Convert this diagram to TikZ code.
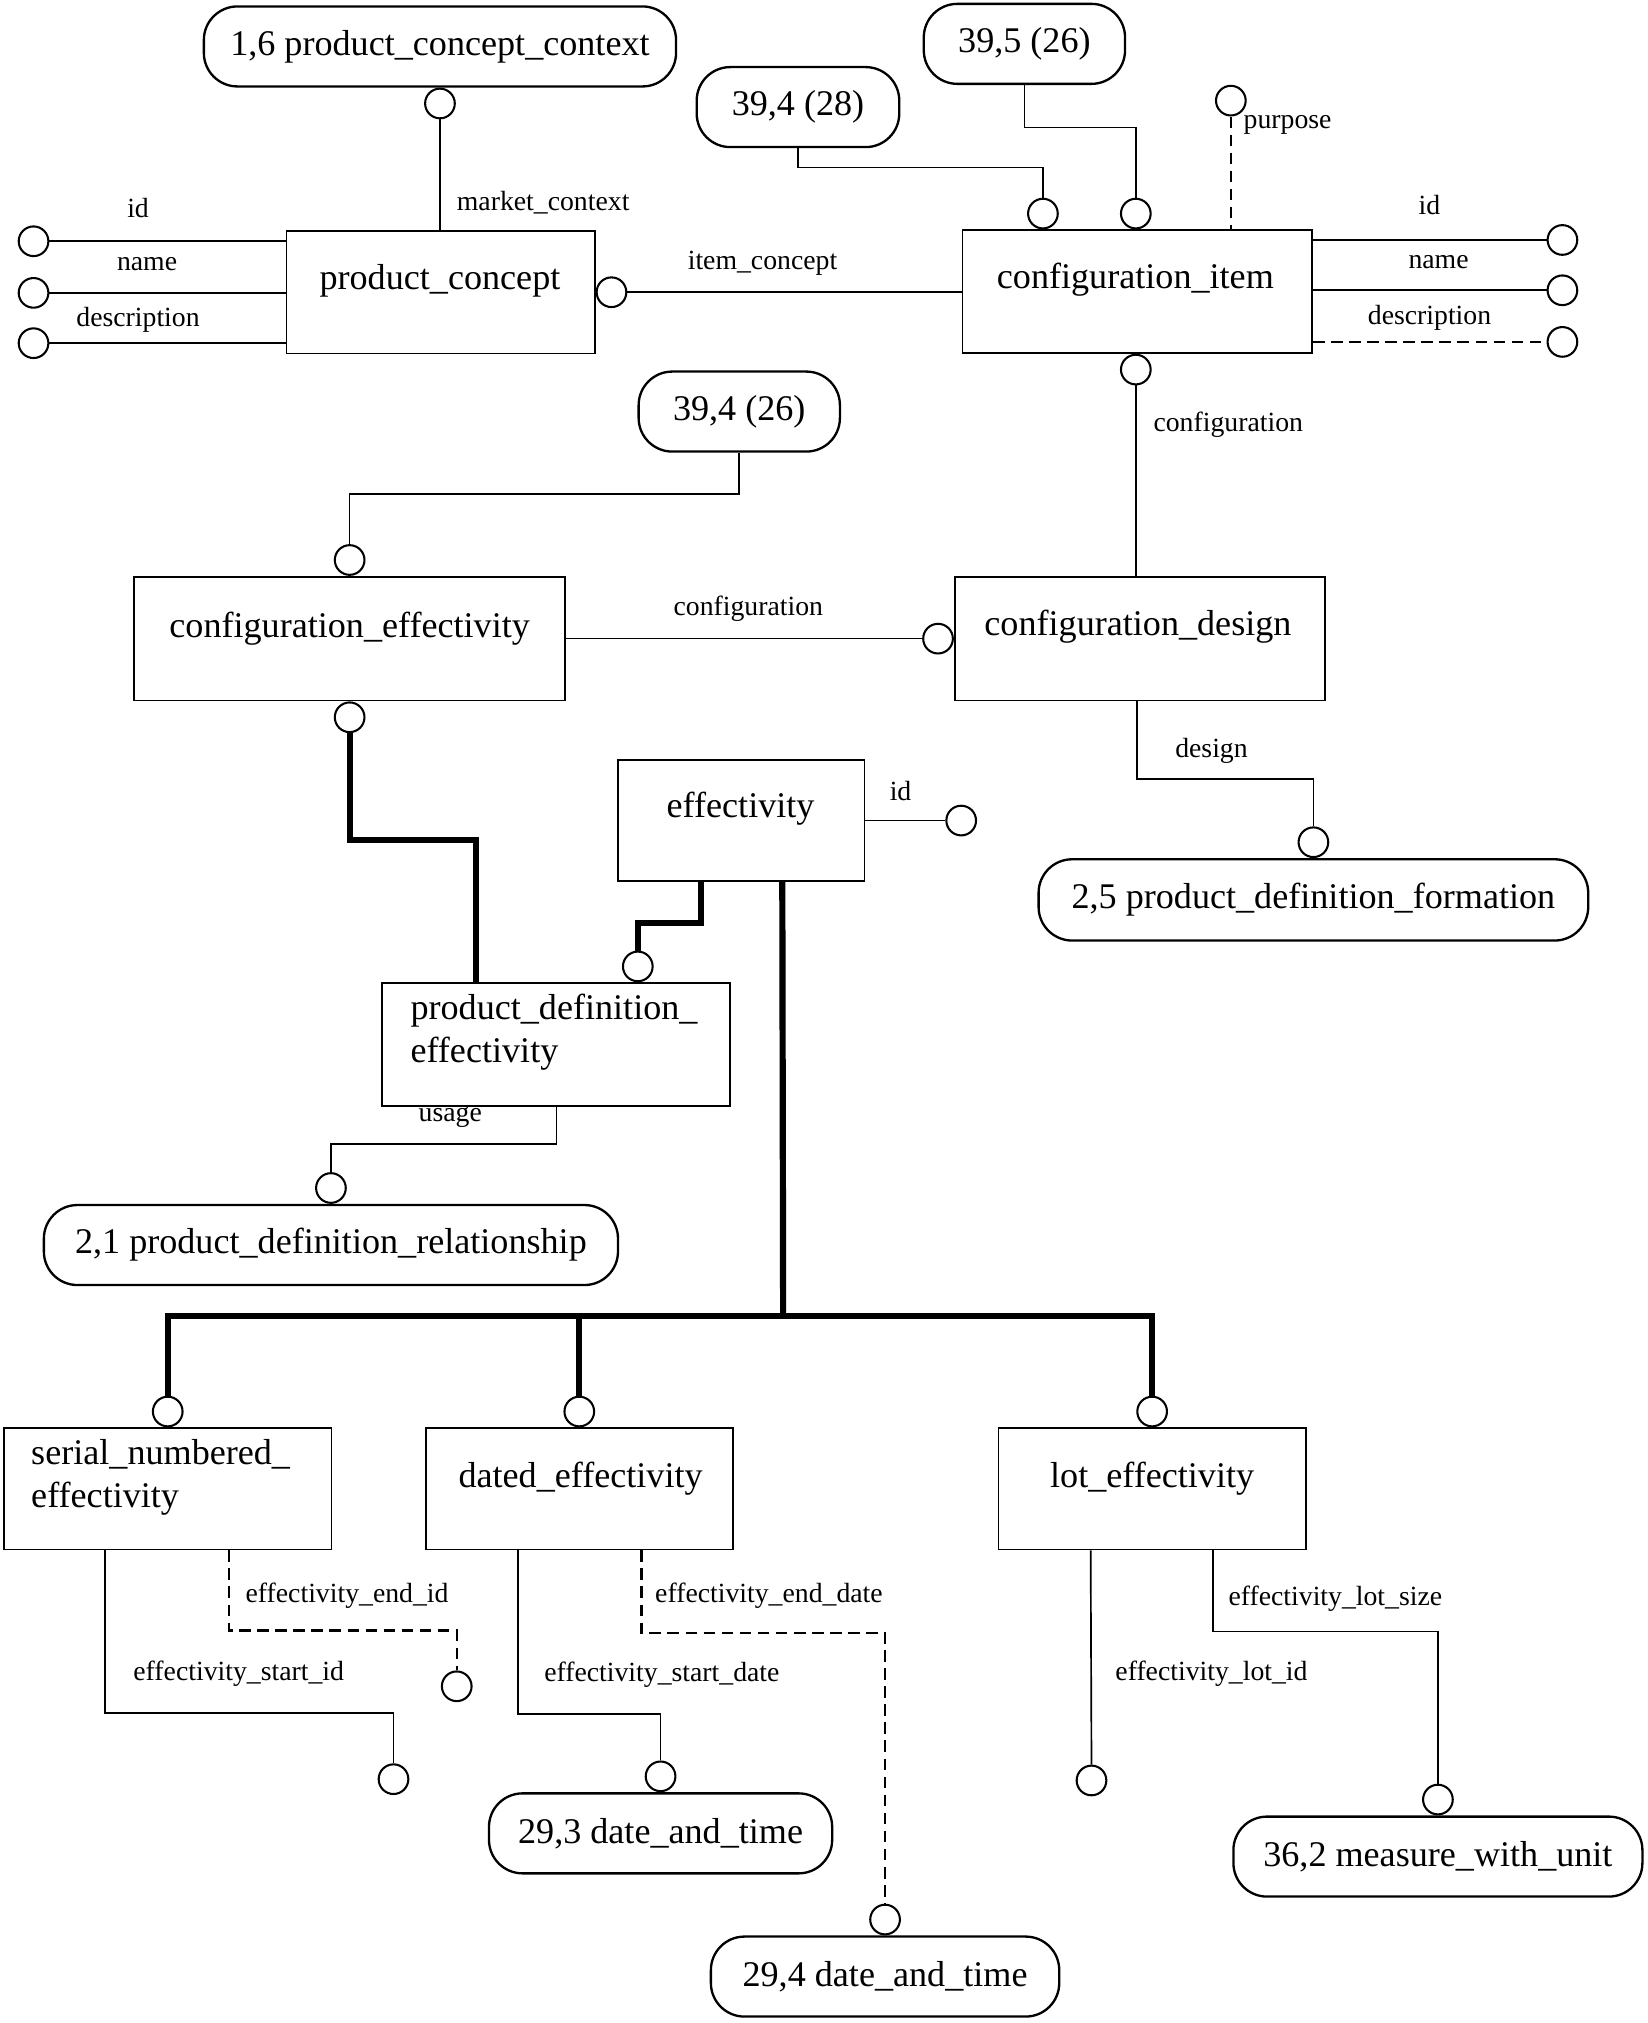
\documentclass[tikz,border=0pt]{standalone}
\usepackage{fontspec}
\setmainfont{Liberation Serif}
\usetikzlibrary{calc}
\newcommand\entfont{\fontsize{28}{33}\selectfont}
\newcommand\lblfont{\fontsize{21.5}{25}\selectfont}
\begin{document}
\begin{tikzpicture}[x=1pt,y=-1pt,
  ent/.style={draw,line width=1.3pt,inner sep=0pt},
  pill/.style={draw,line width=1.8pt,rounded corners=26pt,inner sep=0pt,font=\entfont},
  etext/.style={inner sep=0pt,font=\entfont},
  dot/.style={draw,circle,line width=1.6pt,minimum size=23pt,inner sep=0pt},
  lbl/.style={inner sep=0pt,font=\lblfont},
  conn/.style={line width=1.3pt},
  heavy/.style={line width=4.8pt},
  opt/.style={line width=1.9pt,dash pattern=on 9pt off 5pt}]
\useasboundingbox (0,0) rectangle (1277,1568);

% pills
\node[pill,minimum width=366pt,minimum height=62pt] (pcc) at (341,36) {1,6 product\_concept\_context};
\node[pill,minimum width=157pt,minimum height=62pt] (p3928) at (618.5,83) {39,4 (28)};
\node[pill,minimum width=156pt,minimum height=62pt] (p3526) at (794,34) {39,5 (26)};
\node[pill,minimum width=156pt,minimum height=62pt] (p3926) at (573,319) {39,4 (26)};
\node[pill,minimum width=426pt,minimum height=63pt] (pdf) at (1018,697.5) {2,5 product\_definition\_formation};
\node[pill,minimum width=445pt,minimum height=62pt] (pdr) at (256.5,965) {2,1 product\_definition\_relationship};
\node[pill,minimum width=266pt,minimum height=62pt] (dt3) at (512,1421) {29,3 date\_and\_time};
\node[pill,minimum width=270pt,minimum height=62pt] (dt4) at (686,1532) {29,4 date\_and\_time};
\node[pill,minimum width=317pt,minimum height=62pt] (mwu) at (1114.5,1439) {36,2 measure\_with\_unit};

% entities
\node[ent,minimum width=239pt,minimum height=95pt] (pc) at (341.5,226.5) {};
\node[etext] at (341,218) {product\_concept};
\node[ent,minimum width=271pt,minimum height=95pt] (ci) at (881.5,226) {};
\node[etext] at (880,217) {configuration\_item};
\node[ent,minimum width=334pt,minimum height=96pt] (ce) at (271,495) {};
\node[etext] at (271,487) {configuration\_effectivity};
\node[ent,minimum width=287pt,minimum height=96pt] (cd) at (883.5,495) {};
\node[etext] at (882,486) {configuration\_design};
\node[ent,minimum width=191pt,minimum height=94pt] (eff) at (574.5,636) {};
\node[etext] at (574,627) {effectivity};
\node[ent,minimum width=270pt,minimum height=95pt] (pde) at (431,809.5) {};
\node[etext,anchor=west,align=left] at (318,800) {product\_definition\_\\effectivity};
\node[ent,minimum width=254pt,minimum height=94pt] (sne) at (130,1154) {};
\node[etext,anchor=west,align=left] at (24,1145) {serial\_numbered\_\\effectivity};
\node[ent,minimum width=238pt,minimum height=94pt] (de) at (449,1154) {};
\node[etext] at (450,1146) {dated\_effectivity};
\node[ent,minimum width=238pt,minimum height=94pt] (le) at (893,1154) {};
\node[etext] at (893,1146) {lot\_effectivity};

% product_concept
\node[dot,anchor=north] (cA) at (pcc.south) {};
\draw[conn] (cA.south) -- (cA.south |- pc.north);
\node[lbl] at (421,157) {market\_context};
\node[dot] (ia1) at (26,187) {};
\node[dot] (ia2) at (26,227) {};
\node[dot] (ia3) at (26,266) {};
\draw[conn] (ia1.east) -- (ia1.east -| pc.west);
\draw[conn] (ia2.east) -- (ia2.east -| pc.west);
\draw[conn] (ia3.east) -- (ia3.east -| pc.west);
\node[lbl] at (107,161) {id};
\node[lbl] at (114,205) {name};
\node[lbl] at (107,248) {description};
\node[dot,anchor=west] (cB) at (pc.east) {};
\draw[conn] (cB.east) -- (cB.east -| ci.west);
\node[lbl] at (591,204) {item\_concept};

% configuration_item
\node[dot,anchor=south] (cT1) at ($(ci.north west)+(63,0)$) {};
\node[dot,anchor=south] (cT2) at ($(ci.north west)+(135,0)$) {};
\draw[conn] (p3928.south) -- ++(0,15) -| (cT1.north);
\draw[conn] (p3526.south) -- ++(0,33) -| (cT2.north);
\node[dot] (cPur) at (954,78) {};
\draw[opt] (cPur.south) -- (cPur.south |- ci.north);
\node[lbl] at (998,97) {purpose};
\node[dot] (ib1) at (1211,186) {};
\node[dot] (ib2) at (1211,225) {};
\node[dot] (ib3) at (1211,265) {};
\draw[conn] (ib1.west -| ci.east) -- (ib1.west);
\draw[conn] (ib2.west -| ci.east) -- (ib2.west);
\draw[opt] (ib3.west -| ci.east) -- (ib3.west);
\node[lbl] at (1108,159) {id};
\node[lbl] at (1115,203) {name};
\node[lbl] at (1108,246) {description};
\node[dot,anchor=north] (cC) at ($(ci.south west)+(135,0)$) {};
\draw[conn] (cC.south) -- (cC.south |- cd.north);
\node[lbl] at (952,329) {configuration};

% configuration_effectivity
\node[dot,anchor=south] (cD) at (ce.north) {};
\draw[conn] (p3926.south) -- ++(0,32) -| (cD.north);
\node[dot,anchor=east] (cE) at (cd.west) {};
\draw[conn] (ce.east) -- (cE.west);
\node[lbl] at (580,472) {configuration};
\node[dot,anchor=north] (cF) at (ce.south) {};
\coordinate (k1) at (369,651);
\draw[heavy] (cF.south) |- (k1) -- (k1 |- pde.north);

% configuration_design
\node[dot,anchor=south] (cG) at (pdf.north) {};
\draw[conn] ($(cd.south west)+(142,0)$) -- ++(0,60) -| (cG.north);
\node[lbl] at (939,582) {design};

% effectivity
\node[dot] (cH) at (745,636) {};
\draw[conn] (eff.east) -- (cH.west);
\node[lbl] at (698,613) {id};
\node[dot,anchor=south] (cI) at ($(pde.north west)+(199,0)$) {};
\draw[heavy] ($(eff.south west)+(65,0)$) -- ++(0,32) -| (cI.north);
\coordinate (hub) at (607,1020);
\draw[heavy] ($(eff.south west)+(128,0)$) -- (hub);
\node[dot,anchor=south] (cJ) at (sne.north) {};
\node[dot,anchor=south] (cK) at (de.north) {};
\node[dot,anchor=south] (cL) at (le.north) {};
\draw[heavy] (cJ.north) |- (hub) -| (cL.north);
\draw[heavy] (cK.north) -- (cK.north |- hub);

% product_definition_effectivity
\node[dot,anchor=south] (cM) at (pdr.north) {};
\draw[conn] ($(pde.south west)+(136,0)$) -- ++(0,29) -| (cM.north);
\node[lbl] at (349,866) {usage};

% serial_numbered_effectivity
\node[dot] (cN) at (305,1379) {};
\draw[conn] ($(sne.south west)+(79,0)$) -- ++(0,126) -| (cN.north);
\node[lbl] at (185,1297) {effectivity\_start\_id};
\node[dot] (cO) at (354,1307) {};
\draw[opt] ($(sne.south west)+(175,0)$) -- ++(0,62) -| (cO.north);
\node[lbl] at (269,1237) {effectivity\_end\_id};

% dated_effectivity
\node[dot,anchor=south] (cP) at (dt3.north) {};
\draw[conn] ($(de.south west)+(72,0)$) -- ++(0,127) -| (cP.north);
\node[lbl] at (513,1298) {effectivity\_start\_date};
\node[dot,anchor=south] (cQ) at (dt4.north) {};
\draw[opt] ($(de.south west)+(168,0)$) -- ++(0,64) -| (cQ.north);
\node[lbl] at (596,1237) {effectivity\_end\_date};

% lot_effectivity
\node[dot] (cR) at (846,1380) {};
\draw[conn] ($(le.south west)+(72,0)$) -- (cR.north);
\node[lbl] at (939,1297) {effectivity\_lot\_id};
\node[dot,anchor=south] (cS) at (mwu.north) {};
\draw[conn] ($(le.south west)+(167,0)$) -- ++(0,63) -| (cS.north);
\node[lbl] at (1035,1239) {effectivity\_lot\_size};
\end{tikzpicture}
\end{document}
